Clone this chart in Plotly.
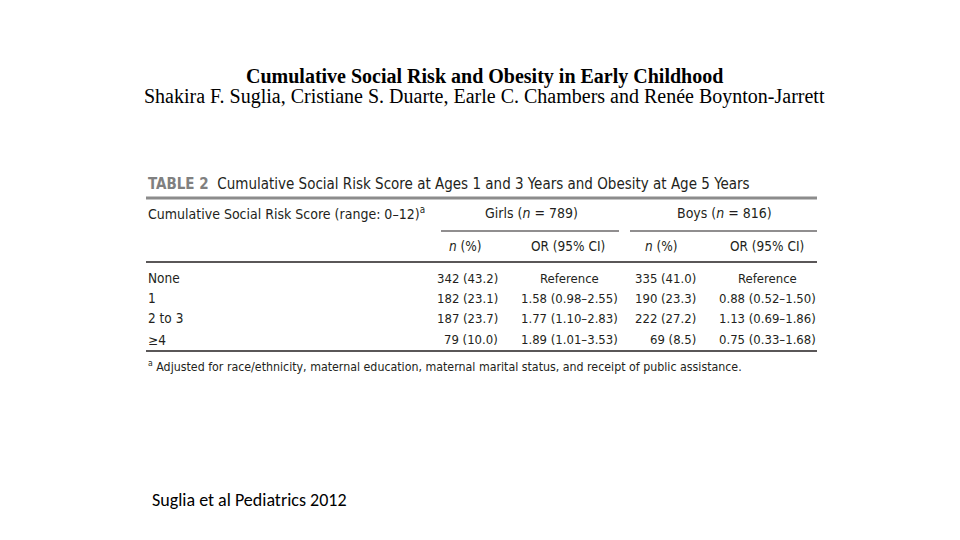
import plotly.graph_objects as go

# ---- data ----
title_main = "Cumulative Social Risk and Obesity in Early Childhood"
authors = "Shakira F. Suglia, Cristiane S. Duarte, Earle C. Chambers and Renée Boynton-Jarrett"
table_label = "TABLE 2"
table_title = "Cumulative Social Risk Score at Ages 1 and 3 Years and Obesity at Age 5 Years"
row_header = "Cumulative Social Risk Score (range: 0–12)<sup>a</sup>"
groups = ["Girls (<i>n</i> = 789)", "Boys (<i>n</i> = 816)"]
subheaders = ["<i>n</i> (%)", "OR (95% CI)"]
categories = ["None", "1", "2 to 3", "≥4"]
girls_n = [342, 182, 187, 79]
girls_pct = [43.2, 23.1, 23.7, 10.0]
girls_or = ["Reference", "1.58 (0.98–2.55)", "1.77 (1.10–2.83)", "1.89 (1.01–3.53)"]
boys_n = [335, 190, 222, 69]
boys_pct = [41.0, 23.3, 27.2, 8.5]
boys_or = ["Reference", "0.88 (0.52–1.50)", "1.13 (0.69–1.86)", "0.75 (0.33–1.68)"]
footnote = "<sup>a</sup> Adjusted for race/ethnicity, maternal education, maternal marital status, and receipt of public assistance."
citation = "Suglia et al Pediatrics 2012"

# page body has an 8px default margin
OFF = 8
W, H = 960 - 2 * OFF, 540 - 2 * OFF


def px(x):
    return (x - OFF) / W


def py(y):
    return 1 - (y - OFF) / H


SERIF = "Liberation Serif, Times New Roman, serif"
COND = "Liberation Sans Narrow, DejaVu Sans Condensed, Roboto Condensed, sans-serif"
TXT = "#231f20"

ann = []


def add(text, x, y, size, family, color=TXT, xanchor="left"):
    ann.append(dict(text=text, x=px(x), y=py(y), xref="paper", yref="paper",
                    xanchor=xanchor, yanchor="middle", showarrow=False,
                    font=dict(size=size, family=family, color=color)))


add("<b>" + title_main + "</b>", 484, 76, 20, SERIF, "#000000", "center")
add(authors, 484, 96, 20, SERIF, "#000000", "center")

add("<span style='color:#808080'><b>" + table_label + "</b></span>  " + table_title,
    146, 184, 15, COND, TXT)

add(row_header, 146, 213, 14, COND)
add(groups[0], 531, 213, 14, COND, xanchor="center")
add(groups[1], 724, 213, 14, COND, xanchor="center")
add(subheaders[0], 465, 246, 13.5, COND, xanchor="center")
add(subheaders[1], 568, 246, 13.5, COND, xanchor="center")
add(subheaders[0], 661, 246, 13.5, COND, xanchor="center")
add(subheaders[1], 767, 246, 13.5, COND, xanchor="center")

row_y = [278, 298, 318, 340]
for i, cat in enumerate(categories):
    y = row_y[i]
    add(cat, 146, y, 13.5, COND)
    add(f"{girls_n[i]} ({girls_pct[i]:.1f})", 500, y, 13, COND, xanchor="right")
    add(girls_or[i], 569, y, 13, COND, xanchor="center")
    add(f"{boys_n[i]} ({boys_pct[i]:.1f})", 698, y, 13, COND, xanchor="right")
    add(boys_or[i], 767, y, 13, COND, xanchor="center")

add(footnote, 146, 366, 12.3, COND)
add(citation, 150, 500, 18, "Carlito, Lato, Open Sans, sans-serif", "#000000")

shapes = []


def hline(x0, x1, y, width, color):
    shapes.append(dict(type="line", xref="paper", yref="paper",
                       x0=px(x0), x1=px(x1), y0=py(y), y1=py(y),
                       line=dict(color=color, width=width)))


hline(146, 817, 198, 3, "#8c8c8c")
hline(441, 619, 231, 1.2, TXT)
hline(630, 817, 231, 1.2, TXT)
hline(146, 817, 262, 1.5, TXT)
hline(146, 817, 351, 1.5, TXT)

fig = go.Figure()
fig.update_layout(
    width=W, height=H,
    margin=dict(l=0, r=0, t=0, b=0),
    paper_bgcolor="white", plot_bgcolor="white",
    xaxis=dict(visible=False), yaxis=dict(visible=False),
    annotations=ann, shapes=shapes, showlegend=False,
)
fig.write_html("out.html")
